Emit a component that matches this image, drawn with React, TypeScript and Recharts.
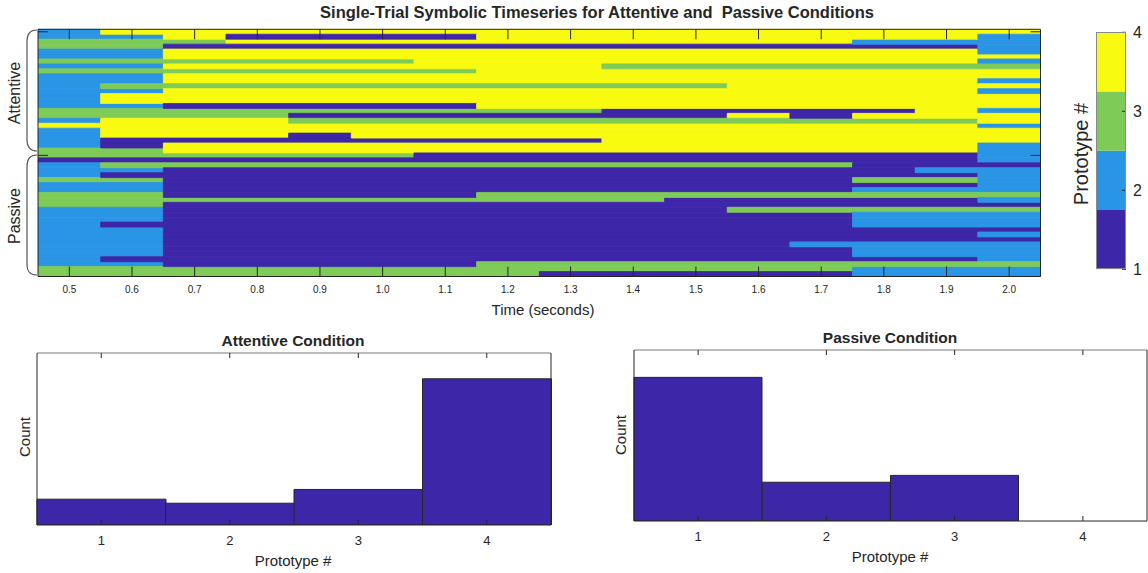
import React from 'react';
import { BarChart, Bar, XAxis, YAxis, Cell } from 'recharts';

const FONT = "'Liberation Sans', Arial, Helvetica, sans-serif";
const INK = '#262626';

// prototype numbers and their colours (parula, 4 levels)
const prototypes = [1, 2, 3, 4];
const protoColors = ['#3E26A8', '#2A95E5', '#7FCB57', '#F8FA0F'];

// centres of the 100 ms time bins (seconds)
const timeBins = [0.5, 0.6, 0.7, 0.8, 0.9, 1.0, 1.1, 1.2, 1.3, 1.4, 1.5, 1.6, 1.7, 1.8, 1.9, 2.0];
const timeTicks = [0.5, 0.6, 0.7, 0.8, 0.9, 1.0, 1.1, 1.2, 1.3, 1.4, 1.5, 1.6, 1.7, 1.8, 1.9, 2.0];

// prototype # per trial (rows) and time bin (columns)
const attentiveTrials = [
  [2, 4, 4, 4, 4, 4, 4, 4, 4, 4, 4, 4, 4, 4, 4, 4],
  [2, 2, 4, 1, 1, 1, 1, 4, 4, 4, 4, 4, 4, 4, 4, 2],
  [3, 3, 3, 4, 4, 4, 4, 4, 4, 4, 4, 4, 4, 2, 2, 2],
  [3, 3, 1, 1, 1, 1, 1, 1, 1, 1, 1, 1, 1, 1, 1, 2],
  [2, 2, 4, 4, 4, 4, 4, 4, 4, 4, 4, 4, 4, 4, 4, 2],
  [2, 2, 4, 4, 4, 4, 4, 4, 4, 4, 4, 4, 4, 4, 4, 4],
  [3, 3, 3, 3, 3, 3, 4, 4, 4, 4, 4, 4, 4, 4, 4, 2],
  [2, 2, 4, 4, 4, 4, 4, 4, 4, 3, 3, 3, 3, 3, 3, 3],
  [3, 3, 3, 3, 3, 3, 3, 4, 4, 4, 4, 4, 4, 4, 4, 4],
  [2, 2, 4, 4, 4, 4, 4, 4, 4, 4, 4, 4, 4, 4, 4, 4],
  [2, 2, 4, 4, 4, 4, 4, 4, 4, 4, 4, 4, 4, 4, 4, 2],
  [2, 3, 3, 3, 3, 3, 3, 3, 3, 3, 3, 4, 4, 4, 4, 4],
  [2, 2, 4, 4, 4, 4, 4, 4, 4, 4, 4, 4, 4, 4, 4, 2],
  [2, 4, 4, 4, 4, 4, 4, 4, 4, 4, 4, 4, 4, 4, 4, 4],
  [2, 4, 4, 4, 4, 4, 4, 4, 4, 4, 4, 4, 4, 4, 4, 4],
  [2, 2, 1, 1, 1, 1, 1, 4, 4, 4, 4, 4, 4, 4, 4, 4],
  [3, 3, 3, 3, 3, 3, 3, 3, 3, 1, 1, 1, 1, 1, 4, 2],
  [3, 3, 3, 3, 1, 1, 1, 1, 1, 1, 1, 4, 1, 4, 4, 4],
  [2, 4, 4, 4, 3, 3, 3, 3, 3, 3, 3, 3, 3, 3, 3, 4],
  [4, 4, 4, 4, 4, 4, 4, 4, 4, 4, 4, 4, 4, 4, 4, 2],
  [2, 4, 4, 4, 4, 4, 4, 4, 4, 4, 4, 4, 4, 4, 4, 4],
  [2, 4, 4, 4, 1, 4, 4, 4, 4, 4, 4, 4, 4, 4, 4, 4],
  [2, 1, 1, 1, 1, 1, 1, 1, 1, 4, 4, 4, 4, 4, 4, 4],
  [2, 1, 4, 4, 4, 4, 4, 4, 4, 4, 4, 4, 4, 4, 4, 2],
  [3, 3, 4, 4, 4, 4, 4, 4, 4, 4, 4, 4, 4, 4, 4, 2],
];

const passiveTrials = [
  [3, 3, 3, 3, 3, 3, 1, 1, 1, 1, 1, 1, 1, 1, 1, 2],
  [1, 1, 1, 1, 1, 1, 1, 1, 1, 1, 1, 1, 1, 1, 1, 2],
  [2, 3, 3, 3, 3, 3, 3, 3, 3, 3, 3, 3, 3, 1, 1, 1],
  [2, 2, 1, 1, 1, 1, 1, 1, 1, 1, 1, 1, 1, 1, 2, 2],
  [2, 1, 1, 1, 1, 1, 1, 1, 1, 1, 1, 1, 1, 1, 1, 2],
  [3, 3, 1, 1, 1, 1, 1, 1, 1, 1, 1, 1, 1, 3, 3, 2],
  [2, 2, 1, 1, 1, 1, 1, 1, 1, 1, 1, 1, 1, 1, 1, 2],
  [2, 2, 1, 1, 1, 1, 1, 1, 1, 1, 1, 1, 1, 2, 2, 2],
  [3, 3, 1, 1, 1, 1, 1, 3, 3, 3, 3, 3, 3, 3, 3, 3],
  [3, 3, 3, 3, 3, 3, 3, 3, 3, 3, 1, 1, 1, 1, 1, 2],
  [3, 3, 1, 1, 1, 1, 1, 1, 1, 1, 1, 1, 1, 1, 1, 1],
  [2, 2, 1, 1, 1, 1, 1, 1, 1, 1, 1, 3, 3, 3, 3, 3],
  [2, 2, 1, 1, 1, 1, 1, 1, 1, 1, 1, 1, 1, 2, 2, 2],
  [2, 2, 1, 1, 1, 1, 1, 1, 1, 1, 1, 1, 1, 2, 2, 2],
  [2, 1, 1, 1, 1, 1, 1, 1, 1, 1, 1, 1, 1, 2, 2, 2],
  [2, 2, 1, 1, 1, 1, 1, 1, 1, 1, 1, 1, 1, 1, 1, 1],
  [2, 2, 1, 1, 1, 1, 1, 1, 1, 1, 1, 1, 1, 1, 1, 2],
  [2, 2, 1, 1, 1, 1, 1, 1, 1, 1, 1, 1, 1, 1, 1, 1],
  [2, 2, 1, 1, 1, 1, 1, 1, 1, 1, 1, 1, 2, 2, 2, 2],
  [2, 2, 1, 1, 1, 1, 1, 1, 1, 1, 1, 1, 1, 2, 2, 2],
  [2, 2, 1, 1, 1, 1, 1, 1, 1, 1, 1, 1, 1, 2, 2, 2],
  [2, 1, 1, 1, 1, 1, 1, 1, 1, 1, 1, 1, 1, 1, 1, 2],
  [2, 2, 1, 1, 1, 1, 1, 3, 3, 3, 3, 3, 3, 3, 3, 3],
  [3, 3, 3, 3, 3, 3, 3, 3, 3, 3, 3, 3, 3, 2, 2, 2],
  [3, 3, 3, 3, 3, 3, 3, 3, 1, 1, 1, 1, 1, 2, 2, 2],
];

// histogram counts per prototype
const attentiveCounts = [45, 38, 62, 255];
const passiveCounts = [252, 68, 80, 0];
const countMax = 300;

type TxtProps = { x: number; y: number; size: number; bold?: boolean; rotate?: number; children: React.ReactNode };
const Txt = ({ x, y, size, bold, rotate = 0, children }: TxtProps) => (
  <div
    style={{
      position: 'absolute',
      left: x,
      top: y,
      transform: `translate(-50%, -50%) rotate(${rotate}deg)`,
      fontSize: size,
      fontWeight: bold ? 700 : 400,
      lineHeight: 1,
      whiteSpace: 'pre',
      color: INK,
      fontFamily: FONT,
    }}
  >
    {children}
  </div>
);

// each chart is drawn twice at the same spot: marks first, then axes on top
const Layered = ({ left, top, render }: { left: number; top: number; render: (axes: boolean) => React.ReactNode }) => (
  <>
    <div style={{ position: 'absolute', left, top }}>{render(false)}</div>
    <div style={{ position: 'absolute', left, top }}>{render(true)}</div>
  </>
);

const line = (on: boolean, stroke = INK) => (on ? { stroke } : false);

type TickLabel = { size: number; dx: number; dy: number; anchor: 'start' | 'middle' | 'end'; format?: (v: any) => string };

// MATLAB-style inward tick mark (dx, dy from the axis line), with an optional outside label
const inwardTick = (dx: number, dy: number, label?: TickLabel) => (p: any) => (
  <g>
    <line x1={p.x} y1={p.y} x2={p.x + dx} y2={p.y + dy} stroke={INK} strokeWidth={1} />
    {label && (
      <text
        x={p.x + label.dx}
        y={p.y + label.dy}
        textAnchor={label.anchor}
        fontSize={label.size}
        fontFamily={FONT}
        fill={INK}
      >
        {label.format ? label.format(p.payload.value) : String(p.payload.value)}
      </text>
    )}
  </g>
);

// collapse a trial into runs of equal prototype
const toRuns = (vals: number[]) => {
  const runs: { proto: number; n: number }[] = [];
  vals.forEach((v) => {
    const last = runs[runs.length - 1];
    if (last && last.proto === v) last.n += 1;
    else runs.push({ proto: v, n: 1 });
  });
  return runs;
};

// plot box of the heatmap, in page pixels
const HM = { left: 38, top: 29.3, right: 1040.5, bottom: 276.5 };

function Heatmap({ axes }: { axes: boolean }) {
  const binW = timeBins[1] - timeBins[0];
  const xDomain = [timeBins[0] - binW / 2, timeBins[timeBins.length - 1] + binW / 2];
  const rows = [
    ...attentiveTrials.map((vals, i) => ({ trial: `A${i + 1}`, runs: toRuns(vals) })),
    ...passiveTrials.map((vals, i) => ({ trial: `P${i + 1}`, runs: toRuns(vals) })),
  ];
  const maxRuns = Math.max(...rows.map((r) => r.runs.length));
  const runIdx = Array.from({ length: maxRuns }, (_, k) => k);
  const data = rows.map((r) => {
    const d: Record<string, any> = { trial: r.trial, start: xDomain[0] };
    r.runs.forEach((run, k) => {
      d[`r${k}`] = run.n * binW;
    });
    return d;
  });
  const W = 1148;
  const H = 320;
  const rowH = (HM.bottom - HM.top) / rows.length - 0.005;
  const rowTicks = ['A1', 'P1'];

  return (
    <BarChart
      layout="vertical"
      width={W}
      height={H}
      data={data}
      margin={{ top: HM.top - 1, right: W - HM.right - 1, bottom: H - HM.bottom - 1, left: HM.left - 1 }}
      barCategoryGap={0}
      barGap={0}
      barSize={rowH}
    >
      {!axes && <Bar dataKey="start" stackId="s" fill="none" isAnimationActive={false} />}
      {!axes &&
        runIdx.map((k) => (
          <Bar key={k} dataKey={`r${k}`} stackId="s" isAnimationActive={false}>
            {rows.map((r, j) => {
              const run = r.runs[k];
              const c = run ? protoColors[run.proto - 1] : 'none';
              return <Cell key={j} fill={c} stroke={c} strokeWidth={0.8} />;
            })}
          </Bar>
        ))}
      <XAxis
        type="number"
        domain={xDomain}
        allowDataOverflow
        ticks={timeTicks}
        interval={0}
        height={1}
        tickSize={0}
        tickMargin={0}
        axisLine={line(axes)}
        tickLine={false}
        tick={
          axes
            ? inwardTick(0, -10, { size: 10, dx: 0, dy: 16, anchor: 'middle', format: (v: number) => v.toFixed(1) })
            : false
        }
      />
      <XAxis
        xAxisId="top"
        orientation="top"
        type="number"
        domain={xDomain}
        allowDataOverflow
        ticks={timeTicks}
        interval={0}
        height={1}
        tickSize={0}
        tickMargin={0}
        axisLine={line(axes)}
        tickLine={false}
        tick={axes ? inwardTick(0, 10) : false}
      />
      <YAxis
        type="category"
        dataKey="trial"
        width={1}
        ticks={rowTicks}
        interval={0}
        tickSize={0}
        tickMargin={0}
        axisLine={line(axes)}
        tickLine={false}
        tick={axes ? inwardTick(10, 0) : false}
      />
      <YAxis
        yAxisId="right"
        orientation="right"
        type="category"
        dataKey="trial"
        width={1}
        ticks={rowTicks}
        interval={0}
        tickSize={0}
        tickMargin={0}
        axisLine={line(axes)}
        tickLine={false}
        tick={axes ? inwardTick(-10, 0) : false}
      />
    </BarChart>
  );
}

function Colorbar({ axes }: { axes: boolean }) {
  const step = (prototypes[prototypes.length - 1] - prototypes[0]) / prototypes.length;
  const d: Record<string, any> = { name: 'cb', start: prototypes[0] };
  prototypes.forEach((_, k) => {
    d[`l${k}`] = step;
  });
  const yDomain = [prototypes[0], prototypes[prototypes.length - 1]];
  return (
    <BarChart
      width={88}
      height={300}
      data={[d]}
      margin={{ top: 32.3, right: 21, bottom: 300 - 269.3, left: 36 }}
      barCategoryGap={0}
    >
      {!axes && <Bar dataKey="start" stackId="s" fill="none" isAnimationActive={false} />}
      {!axes &&
        prototypes.map((_, k) => (
          <Bar key={k} dataKey={`l${k}`} stackId="s" fill={protoColors[k]} isAnimationActive={false} />
        ))}
      <XAxis dataKey="name" hide />
      <YAxis
        orientation="right"
        type="number"
        domain={yDomain}
        allowDataOverflow
        ticks={prototypes}
        interval={0}
        width={1}
        tickSize={0}
        tickMargin={0}
        axisLine={false}
        tickLine={false}
        tick={axes ? inwardTick(-4, 0, { size: 16, dx: 7, dy: 6, anchor: 'start' }) : false}
      />
    </BarChart>
  );
}

type HistProps = {
  axes: boolean;
  counts: number[];
  width: number;
  height: number;
  margin: { top: number; right: number; bottom: number; left: number };
};

function Histogram({ axes, counts, width, height, margin }: HistProps) {
  const bins = prototypes.map((p, k) => ({ proto: p, count: counts[k] }));
  const m = { top: margin.top - 1, right: margin.right - 1, bottom: margin.bottom - 1, left: margin.left - 1 };
  return (
    <BarChart width={width} height={height} data={bins} margin={m} barCategoryGap={0} barGap={0}>
      {!axes && (
        <Bar dataKey="count" fill={protoColors[0]} stroke={INK} strokeWidth={1} isAnimationActive={false} />
      )}
      <XAxis
        dataKey="proto"
        height={1}
        interval={0}
        tickSize={0}
        tickMargin={0}
        axisLine={line(axes)}
        tickLine={false}
        tick={axes ? inwardTick(0, -5, { size: 13, dx: 0, dy: 20, anchor: 'middle' }) : false}
      />
      <XAxis
        xAxisId="top"
        orientation="top"
        dataKey="proto"
        height={1}
        interval={0}
        tickSize={0}
        tickMargin={0}
        axisLine={line(axes, '#7a7a7a')}
        tickLine={false}
        tick={axes ? inwardTick(0, 5) : false}
      />
      <YAxis domain={[0, countMax]} allowDataOverflow width={1} tick={false} tickLine={false} axisLine={line(axes)} />
      <YAxis
        yAxisId="right"
        orientation="right"
        domain={[0, countMax]}
        width={1}
        tick={false}
        tickLine={false}
        axisLine={line(axes)}
      />
    </BarChart>
  );
}

export default function App() {
  return (
    <div
      style={{
        position: 'absolute',
        left: 0,
        top: 0,
        width: 1148,
        height: 573,
        background: '#fff',
        overflow: 'hidden',
        fontFamily: FONT,
      }}
    >
      <Layered left={0} top={0} render={(a) => <Heatmap axes={a} />} />
      <Layered left={1060} top={0} render={(a) => <Colorbar axes={a} />} />
      <div
        style={{
          position: 'absolute',
          left: 1096,
          top: 32.3,
          width: 30,
          height: 237,
          border: '1px solid #8a8a8a',
          boxSizing: 'border-box',
        }}
      />
      <Layered
        left={0}
        top={330}
        render={(a) => (
          <Histogram axes={a} counts={attentiveCounts} width={570} height={243} margin={{ top: 23, right: 19, bottom: 48, left: 37 }} />
        )}
      />
      <Layered
        left={580}
        top={320}
        render={(a) => (
          <Histogram axes={a} counts={passiveCounts} width={568} height={253} margin={{ top: 30, right: 1, bottom: 52, left: 54 }} />
        )}
      />

      <svg style={{ position: 'absolute', left: 0, top: 0 }} width={40} height={290}>
        <path d="M 37 30 C 30 30 27 34 27 42 L 27 139 C 27 147 30 151 37 151" fill="none" stroke="#555" strokeWidth={1.2} />
        <path d="M 37 155 C 30 155 27 159 27 167 L 27 264 C 27 272 30 275 37 275" fill="none" stroke="#555" strokeWidth={1.2} />
      </svg>

      <Txt x={597} y={12} size={16.5} bold>
        {'Single-Trial Symbolic Timeseries for Attentive and  Passive Conditions'}
      </Txt>
      <Txt x={15} y={93} size={16} rotate={-90}>Attentive</Txt>
      <Txt x={15} y={216} size={16} rotate={-90}>Passive</Txt>
      <Txt x={543} y={309} size={15}>Time (seconds)</Txt>
      <Txt x={1081} y={154} size={20} rotate={-90}>Prototype #</Txt>

      <Txt x={293} y={341} size={15.5} bold>Attentive Condition</Txt>
      <Txt x={24} y={437} size={15} rotate={-90}>Count</Txt>
      <Txt x={293} y={560} size={15}>Prototype #</Txt>

      <Txt x={890} y={338} size={15.5} bold>Passive Condition</Txt>
      <Txt x={620} y={435} size={15} rotate={-90}>Count</Txt>
      <Txt x={890} y={556} size={15}>Prototype #</Txt>
    </div>
  );
}
